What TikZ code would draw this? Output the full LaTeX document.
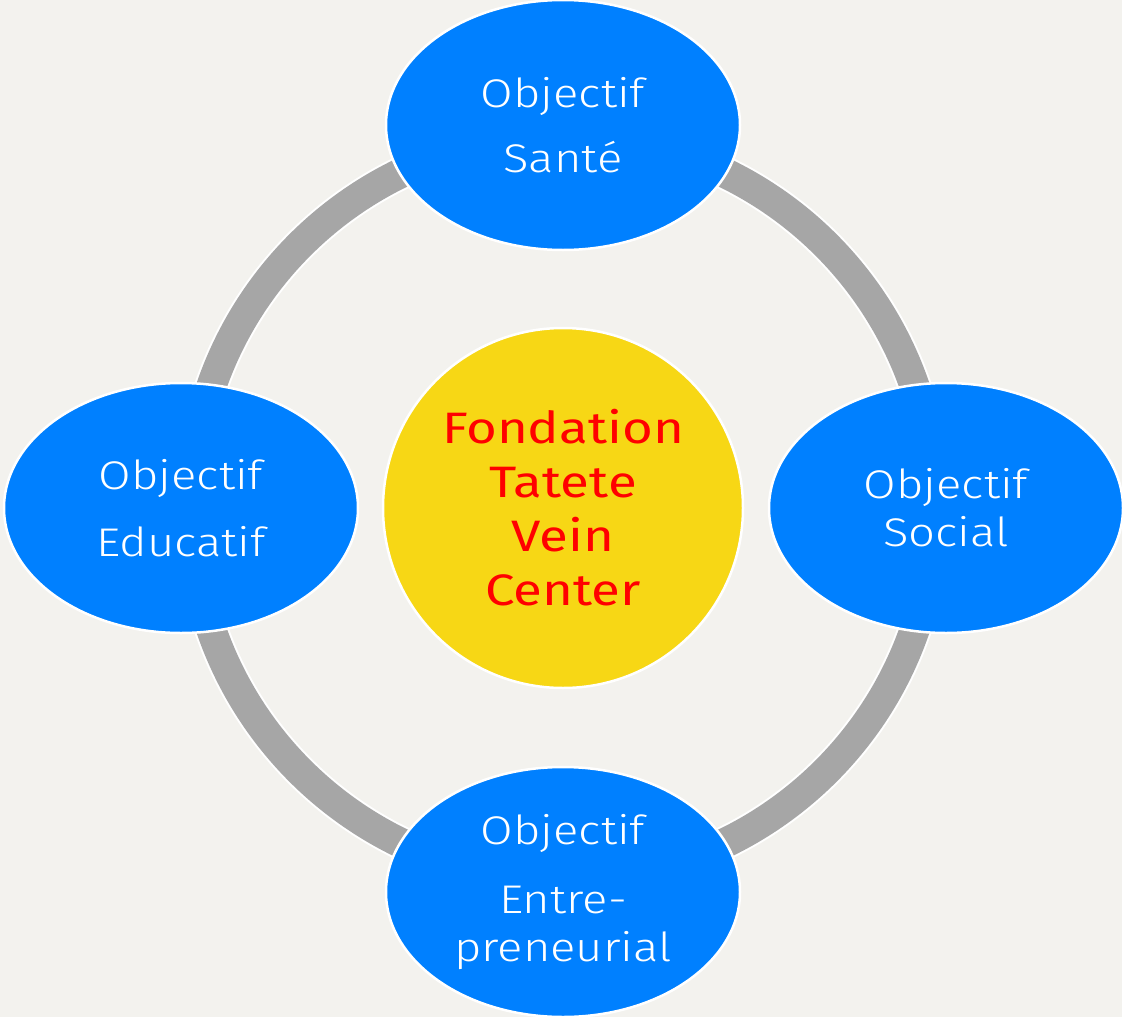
\documentclass[tikz,border=0pt]{standalone}
\usepackage{fontspec}
\setmainfont[FakeStretch=1.2]{Fira Sans}
\newfontfamily\lightfont[FakeStretch=1.18]{Fira Sans Light}
\usetikzlibrary{shapes.geometric}
\definecolor{bg}{HTML}{F3F2EE}
\definecolor{objblue}{HTML}{0080FF}
\definecolor{ringgray}{HTML}{A6A6A6}
\definecolor{centeryellow}{HTML}{F7D715}
\definecolor{centerred}{HTML}{FF0000}
\tikzset{
  objbox/.style={ellipse, draw=white, line width=2.5pt, fill=objblue,
    minimum width=354pt, minimum height=250pt, inner sep=0pt,
    text=white, align=center, font=\lightfont\fontsize{40}{48}\selectfont},
  corebox/.style={circle, draw=white, line width=2.5pt, fill=centeryellow,
    minimum size=360pt, inner sep=0pt, text=centerred, align=center,
    font=\fontsize{44}{54}\selectfont}
}
\begin{document}
\begin{tikzpicture}[x=1pt,y=-1pt]
\fill[bg] (0,0) rectangle (1122,1017);
\useasboundingbox (0,0) rectangle (1122,1017);
\coordinate (mid) at (563,508);
\draw[white, line width=34pt] (mid) circle[radius=372];
\draw[ringgray, line width=30pt] (mid) circle[radius=372];
\node[objbox] (top) at (563,125) {Objectif\\[17pt]Santé};
\node[objbox] (left) at (181,508) {Objectif\\[19pt]Educatif};
\node[objbox] (right) at (946,508) {Objectif\\Social};
\node[objbox] (bottom) at (563,892) {Objectif\\[21pt]Entre-\\preneurial};
\node[corebox] (core) at (mid) {Fondation\\Tatete\\Vein\\Center};
\end{tikzpicture}
\end{document}
